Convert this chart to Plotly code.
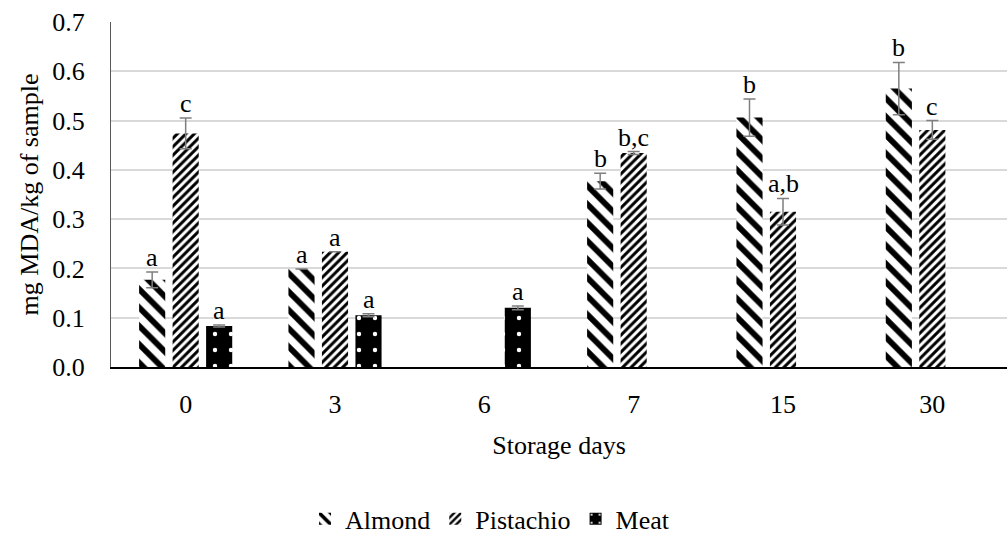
import plotly.graph_objects as go

days = ["0", "3", "6", "7", "15", "30"]
almond = [0.177, 0.199, None, 0.377, 0.506, 0.565]
almond_err = [0.016, 0.0, 0.0, 0.016, 0.038, 0.053]
almond_lbl = ["a", "a", "", "b", "b", "b"]
pistachio = [0.474, 0.234, None, 0.434, 0.315, 0.481]
pistachio_err = [0.031, 0.0, 0.0, 0.003, 0.027, 0.019]
pistachio_lbl = ["c", "a", "", "b,c", "a,b", "c"]
meat = [0.083, 0.105, 0.120, None, None, None]
meat_err = [0.002, 0.003, 0.004, 0.0, 0.0, 0.0]
meat_lbl = ["a", "a", "a", "", "", ""]

FONT = "Liberation Serif"
FS = 26
ERRC = "#7f7f7f"

fig = go.Figure()

def add(name, vals, errs, pattern):
    fig.add_trace(go.Bar(
        name=name, x=days, y=vals,
        marker=dict(color="white", line=dict(width=0), pattern=pattern),
        error_y=dict(type="data", array=errs, visible=True, color=ERRC,
                     thickness=1.5, width=6),
    ))

add("Almond", almond, almond_err,
    dict(shape="\\", fgcolor="black", bgcolor="white", fgopacity=1, size=13, solidity=0.45))
add("Pistachio", pistachio, pistachio_err,
    dict(shape="/", fgcolor="black", bgcolor="white", fgopacity=1, size=6, solidity=0.5))
add("Meat", meat, meat_err,
    dict(shape=".", fgcolor="white", bgcolor="black", fgopacity=1, size=16, solidity=0.06))

shifts = [-33.5, 0, 33.5]
for series, errs, lbls, sh in [(almond, almond_err, almond_lbl, shifts[0]),
                               (pistachio, pistachio_err, pistachio_lbl, shifts[1]),
                               (meat, meat_err, meat_lbl, shifts[2])]:
    for i, (v, e, l) in enumerate(zip(series, errs, lbls)):
        if v is None or not l:
            continue
        fig.add_annotation(x=i, y=v + e, text=l, showarrow=False, xshift=sh,
                           yanchor="bottom", yshift=-2,
                           font=dict(family=FONT, size=FS, color="black"))

fig.update_layout(
    width=1008, height=538,
    margin=dict(l=111, r=1, t=22, b=171, autoexpand=False),
    paper_bgcolor="white", plot_bgcolor="white",
    barmode="group", bargap=0.327, bargroupgap=0.22,
    font=dict(family=FONT, size=FS, color="black"),
    showlegend=True,
    legend=dict(orientation="h", x=0.423, xanchor="center", y=-0.44, yanchor="middle",
                font=dict(family=FONT, size=FS), itemwidth=30, traceorder="normal"),
)
fig.update_xaxes(
    type="category", range=[-0.5, 5.5], showline=True, linecolor="black", linewidth=1.5,
    ticks="", ticklabelstandoff=13, automargin=False,
    title=dict(text="Storage days", standoff=18, font=dict(family=FONT, size=FS)),
    showgrid=False,
)
fig.update_yaxes(
    range=[0, 0.7], tick0=0, dtick=0.1, tickformat=".1f", automargin=False,
    showline=True, linecolor="#595959", linewidth=1,
    showgrid=True, gridcolor="#d9d9d9", gridwidth=1.5,
    zeroline=False, ticks="", ticklabelstandoff=20,
    title=dict(text="mg MDA/kg of sample", standoff=6, font=dict(family=FONT, size=FS)),
)

fig.write_html("out.html")
